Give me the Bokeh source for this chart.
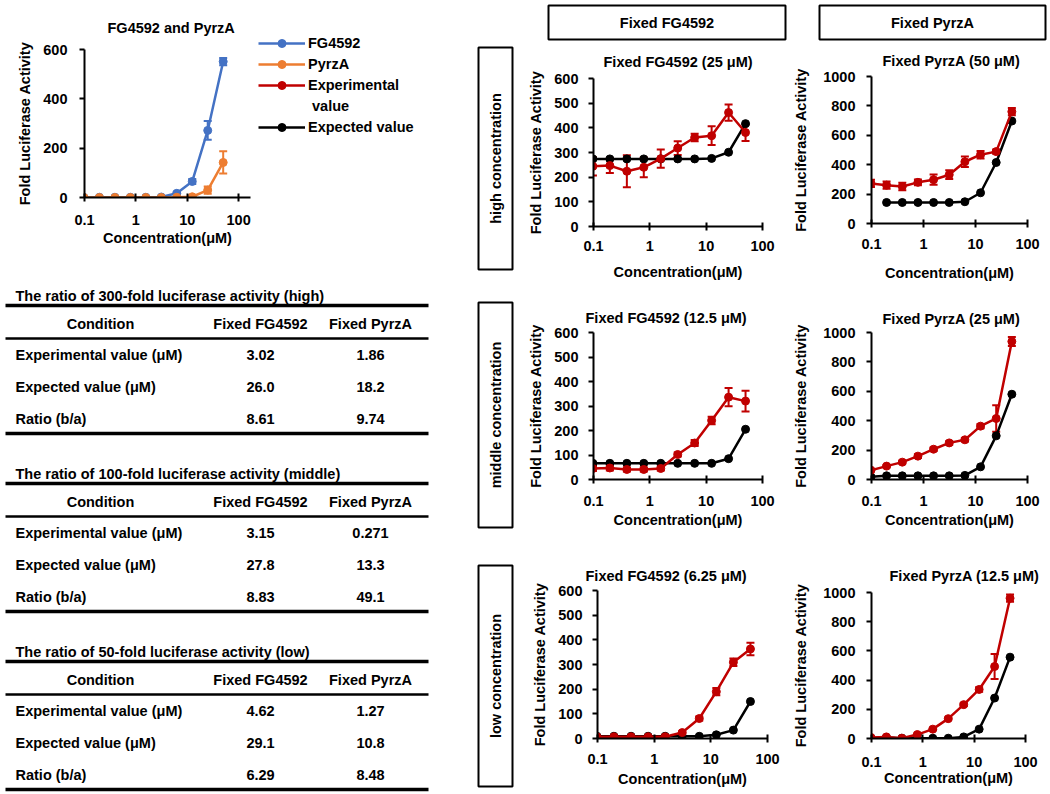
import math
from bokeh.plotting import figure
from bokeh.layouts import row, column
from bokeh.models import (Range1d, FixedTicker, CustomJSTickFormatter, ColumnDataSource,
                          Whisker, TeeHead, Legend, LegendItem)
from bokeh.core.properties import value
from bokeh.embed import file_html
from bokeh.resources import INLINE

FONT = "Liberation Sans"

# ---------------- data ----------------
conc = [0.0977, 0.195, 0.391, 0.781, 1.5625, 3.125, 6.25, 12.5, 25, 50]

# overview chart
fg_mean = [0, 1, 1, 1, 1, 2, 17, 65, 272, 551]
fg_err = [0, 0, 0, 0, 0, 1, 5, 10, 38, 15]
pyrza_mean = [0, 0, 0, 0, 0, 0, 1, 3, 30, 142]
pyrza_err = [0, 0, 0, 0, 0, 0, 1, 3, 15, 45]

# high concentration
hi_fg_exp = [244, 247, 224, 240, 275, 318, 361, 368, 462, 381]
hi_fg_exp_err = [37, 30, 65, 40, 37, 28, 15, 38, 33, 34]
hi_fg_calc = [274, 274, 274, 274, 274, 274, 274, 276, 301, 417]
hi_py_exp = [273, 261, 252, 280, 298, 332, 420, 468, 489, 761]
hi_py_exp_err = [25, 25, 25, 20, 35, 30, 35, 25, 15, 25]
hi_py_calc = [float("nan"), 143, 143, 143, 143, 143, 148, 209, 415, 697]

# middle concentration
mid_fg_exp = [45, 47, 41, 41, 45, 102, 149, 241, 336, 320]
mid_fg_exp_err = [10, 10, 8, 8, 8, 8, 12, 15, 37, 42]
mid_fg_calc = [66, 66, 66, 66, 66, 66, 66, 66, 85, 205]
mid_py_exp = [63, 91, 118, 159, 206, 249, 270, 363, 415, 939]
mid_py_exp_err = [5, 8, 10, 12, 12, 12, 12, 15, 90, 30]
mid_py_calc = [18, 25, 25, 25, 25, 25, 28, 86, 297, 580]

# low concentration
low_fg_exp = [7, 7, 7, 7, 7, 24, 81, 190, 309, 363]
low_fg_exp_err = [2, 2, 2, 2, 2, 5, 8, 15, 15, 25]
low_fg_calc = [9, 9, 9, 9, 9, 9, 9, 15, 34, 150]
low_py_exp = [7, 11, 2, 27, 64, 136, 232, 336, 493, 961]
low_py_exp_err = [3, 3, 3, 5, 5, 8, 10, 15, 85, 25]
low_py_calc = [2, 7, 2, 2, 2, 2, 11, 64, 277, 557]

chart_titles = ["Fixed FG4592 (25 μM)", "Fixed PyrzA (50 μM)",
                "Fixed FG4592 (12.5 μM)", "Fixed PyrzA (25 μM)",
                "Fixed FG4592 (6.25 μM)", "Fixed PyrzA (12.5 μM)"]
col_titles = ["Fixed FG4592", "Fixed PyrzA"]
row_titles = ["high concentration", "middle concentration", "low concentration"]
x_ticks = [0.1, 1, 10, 100]
legend_labels = ["FG4592", "PyrzA", "Experimental", " value", "Expected value"]

table_titles = ["The ratio of 300-fold luciferase activity (high)",
                "The ratio of 100-fold luciferase activity (middle)",
                "The ratio of 50-fold luciferase activity (low)"]
table_headers = ["Condition", "Fixed FG4592", "Fixed PyrzA"]
table_rows = ["Experimental value (μM)", "Expected value (μM)", "Ratio (b/a)"]
fixed_fg_vals = [["3.02", "26.0", "8.61"], ["3.15", "27.8", "8.83"], ["4.62", "29.1", "6.29"]]
fixed_py_vals = [["1.86", "18.2", "9.74"], ["0.271", "13.3", "49.1"], ["1.27", "10.8", "8.48"]]

BLUE = "#4472C4"
ORANGE = "#ED7D31"
RED = "#C00000"
BLACK = "#000000"
FS = "14.5px"
NAN = float("nan")


def style_axes(p, yticks, xs, xls, ys, yls):
    p.xaxis.ticker = FixedTicker(ticks=x_ticks)
    p.xaxis.formatter = CustomJSTickFormatter(code="return tick.toString();")
    p.yaxis.ticker = FixedTicker(ticks=yticks)
    p.xgrid.visible = False
    p.ygrid.visible = False
    p.outline_line_color = None
    for ax in p.axis:
        ax.axis_line_width = 2
        ax.axis_line_color = BLACK
        ax.major_tick_line_width = 2
        ax.major_tick_line_color = BLACK
        ax.minor_tick_line_color = None
        ax.major_label_text_font = FONT
        ax.major_label_text_font_style = "bold"
        ax.major_label_text_font_size = FS
        ax.major_label_text_color = BLACK
        ax.axis_label_text_font = FONT
        ax.axis_label_text_font_style = "bold"
        ax.axis_label_text_font_size = FS
        ax.axis_label_text_color = BLACK
    p.xaxis.major_tick_in = 4
    p.xaxis.major_tick_out = 4
    p.yaxis.major_tick_in = 0
    p.yaxis.major_tick_out = 5
    p.xaxis.major_label_standoff = xs
    p.yaxis.major_label_standoff = ys
    p.xaxis.axis_label = "Concentration(μM)"
    p.yaxis.axis_label = "Fold Luciferase Activity"
    p.xaxis.axis_label_standoff = xls
    p.yaxis.axis_label_standoff = yls


def add_series(p, x, y, err, color):
    src = ColumnDataSource(data=dict(
        x=x, y=y,
        upper=[a + b for a, b in zip(y, err)] if err is not None else y,
        lower=[a - b for a, b in zip(y, err)] if err is not None else y))
    ln = p.line("x", "y", source=src, line_color=color, line_width=2.5)
    sc = p.scatter("x", "y", source=src, size=8, fill_color=color, line_color=color)
    if err is not None:
        w = Whisker(base="x", upper="upper", lower="lower", source=src,
                    line_color=color, line_width=2,
                    upper_head=TeeHead(size=8, line_color=color, line_width=2),
                    lower_head=TeeHead(size=8, line_color=color, line_width=2))
        p.add_layout(w)
    return ln, sc


def style_title(p, text, standoff, offset):
    p.title.text = text
    p.title.align = "left"
    p.title.offset = offset
    p.title.text_font = FONT
    p.title.text_font_style = "bold"
    p.title.text_font_size = FS
    p.title.text_color = BLACK
    p.title.standoff = standoff


def make_chart(title, ymax, ystep, width, height, cfg, exp, exp_err, calc, ys, yls):
    left, fw, top, fh, xs, xls, tso, toff = cfg
    p = figure(width=width, height=height, x_axis_type="log",
               x_range=Range1d(0.1, 100), y_range=Range1d(0, ymax),
               output_backend="svg", toolbar_location=None, frame_align=False,
               min_border_left=left, min_border_right=width - left - fw,
               min_border_top=top, min_border_bottom=height - top - fh)
    style_title(p, title, tso, toff)
    style_axes(p, list(range(0, ymax + 1, ystep)), xs, xls, ys, yls)
    add_series(p, conc, calc, None, BLACK)
    add_series(p, conc, exp, exp_err, RED)
    return p


def blank(width, height):
    p = figure(width=width, height=height, x_range=Range1d(0, width), y_range=Range1d(height, 0),
               output_backend="svg", toolbar_location=None, min_border=0, frame_align=False,
               x_axis_location=None, y_axis_location=None)
    p.xgrid.visible = False
    p.ygrid.visible = False
    p.outline_line_color = None
    return p


# ---------------- overview chart ----------------
A_W, A_H, A_L, A_FW, A_T, A_FH = 258, 262, 84, 166, 49, 148
pa = figure(width=A_W, height=A_H, x_axis_type="log", x_range=Range1d(0.1, 170), y_range=Range1d(0, 600),
            output_backend="svg", toolbar_location=None, frame_align=False,
            min_border_left=A_L, min_border_right=A_W - A_L - A_FW,
            min_border_top=A_T, min_border_bottom=A_H - A_T - A_FH)
style_title(pa, "FG4592 and PyrzA", 28, 23)
style_axes(pa, [0, 200, 400, 600], 13, 2, 12, 7)
add_series(pa, conc, fg_mean, fg_err, BLUE)
add_series(pa, conc, pyrza_mean, pyrza_err, ORANGE)

# legend panel for the overview chart (legend proxies carry no visible data)
L_W = 212
pleg = blank(L_W, A_H)
e_src = ColumnDataSource(data=dict(x=[NAN], y=[NAN]))
leg_r = []
for col in [BLUE, ORANGE, RED, None, BLACK]:
    if col is None:
        leg_r.append([pleg.line("x", "y", source=e_src, line_alpha=0)])
    else:
        leg_r.append([pleg.line("x", "y", source=e_src, line_color=col, line_width=2.5),
                      pleg.scatter("x", "y", source=e_src, size=8, fill_color=col, line_color=col)])
legend = Legend(items=[LegendItem(label=lab, renderers=r) for lab, r in zip(legend_labels, leg_r)],
                location=(0, A_H - 33 - 104))
legend.glyph_width = 47
legend.glyph_height = 20
legend.label_height = 20
legend.label_standoff = 3
legend.spacing = 1
legend.padding = 0
legend.margin = 0
legend.border_line_color = None
legend.background_fill_alpha = 0
legend.label_text_font = FONT
legend.label_text_font_style = "bold"
legend.label_text_font_size = FS
legend.label_text_color = BLACK
pleg.add_layout(legend)

# ---------------- tables ----------------
T_W, T_H = 470, 530
pt = blank(T_W, T_H)
T0, PITCH = 33, 178
tx, ty, ttxt, talign = [], [], [], []
seg_x0, seg_x1, seg_y, seg_w = [], [], [], []
for i in range(3):
    base = T0 + i * PITCH
    tx.append(15); ty.append(base); ttxt.append(table_titles[i]); talign.append("left")
    for j, h in enumerate(table_headers):
        tx.append([100, 260, 370][j]); ty.append(base + 28); ttxt.append(h); talign.append("center")
    for k in range(3):
        yy = base + 59 + 32 * k
        tx.append(15); ty.append(yy); ttxt.append(table_rows[k]); talign.append("left")
        tx.append(260); ty.append(yy); ttxt.append(fixed_fg_vals[i][k]); talign.append("center")
        tx.append(370); ty.append(yy); ttxt.append(fixed_py_vals[i][k]); talign.append("center")
    for off, lw in [(10, 3.5), (43, 2.5), (138, 3.5)]:
        seg_x0.append(5); seg_x1.append(428); seg_y.append(base + off); seg_w.append(lw)
pt.segment(x0=seg_x0, x1=seg_x1, y0=seg_y, y1=seg_y, line_width=seg_w, line_color=BLACK)
pt.text(x=tx, y=ty, text=ttxt, text_align=talign, text_baseline="middle",
        text_font=value(FONT), text_font_style="bold", text_font_size=FS, text_color=BLACK)

# ---------------- right side ----------------
H_W, H_H = 578, 42
ph = blank(H_W, H_H)
ph.quad(left=[78, 349], right=[315, 575], top=[5, 5], bottom=[39, 39],
        fill_color=None, line_color=BLACK, line_width=2)
ph.text(x=[(78 + 315) / 2, (349 + 575) / 2], y=[22, 22], text=col_titles, text_align="center",
        text_baseline="middle", text_font=value(FONT), text_font_style="bold",
        text_font_size=FS, text_color=BLACK)

ROW_H = [243, 255, 252]
BOX_Y = [(5, 227), (17, 242), (25, 246)]
# left, frame width, top, frame height, x label standoff, x axis label standoff, title standoff, title offset
FG_CFG = [(73, 169, 36, 148, 10, 10, 18, 10), (73, 169, 47, 147, 12, 3, 14, -8), (77, 170, 50, 148, 11, 4, 14, -12)]
PY_CFG = [(77, 160, 34, 147, 11, 13, 15, 11), (76, 161, 47, 147, 12, 3, 11, 11), (74, 161, 52, 146, 14, 0, 17, 18)]
series = [(hi_fg_exp, hi_fg_exp_err, hi_fg_calc, hi_py_exp, hi_py_exp_err, hi_py_calc),
          (mid_fg_exp, mid_fg_exp_err, mid_fg_calc, mid_py_exp, mid_py_exp_err, mid_py_calc),
          (low_fg_exp, low_fg_exp_err, low_fg_calc, low_py_exp, low_py_exp_err, low_py_calc)]

rows = [ph]
for i in range(3):
    h = ROW_H[i]
    pl = blank(50, h)
    y0, y1 = BOX_Y[i]
    pl.quad(left=[8], right=[42], top=[y0], bottom=[y1], fill_color=None, line_color=BLACK, line_width=2)
    pl.text(x=[25], y=[(y0 + y1) / 2], text=[row_titles[i]], angle=math.pi / 2, text_align="center",
            text_baseline="middle", text_font=value(FONT), text_font_style="bold",
            text_font_size=FS, text_color=BLACK)
    fe, fee, fc, pe, pee, pc = series[i]
    c1 = make_chart(chart_titles[2 * i], 600, 100, 270, h, FG_CFG[i], fe, fee, fc, 10, 7)
    c2 = make_chart(chart_titles[2 * i + 1], 1000, 200, 258, h, PY_CFG[i], pe, pee, pc, 11, 11)
    rows.append(row(pl, c1, c2, spacing=0))

layout = row(column(row(pa, pleg, spacing=0), pt, spacing=0), column(*rows, spacing=0), spacing=0)

open("out.html", "w").write(file_html(layout, INLINE))
